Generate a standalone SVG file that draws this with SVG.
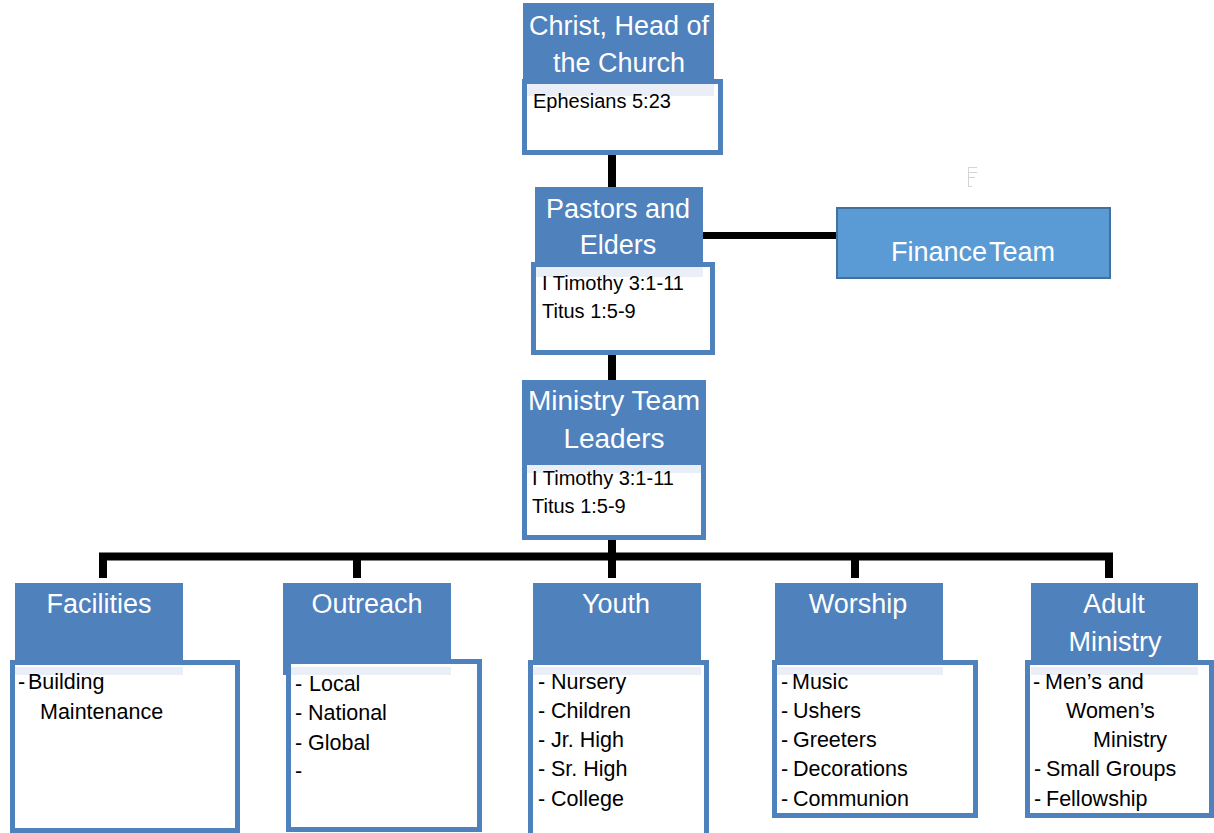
<svg xmlns="http://www.w3.org/2000/svg" width="1214" height="833" viewBox="0 0 1214 833">
<style>
.hd{fill:#4f81bd}
.bx{fill:#ffffff;stroke:#4f81bd;stroke-width:5}
.st{fill:#e9eef7}
.ht{font-family:"Liberation Sans",Arial,sans-serif;font-size:27px;fill:#ffffff;text-anchor:middle}
.bt{font-family:"Liberation Sans",Arial,sans-serif;font-size:21.5px;fill:#000000}
.rt{font-family:"Liberation Sans",Arial,sans-serif;font-size:20px;fill:#000000}
.cn{fill:none;stroke:#000000;stroke-width:8;stroke-linejoin:miter}
</style>
<rect width="1214" height="833" fill="#ffffff"/>
<g id="connectors">
<path class="cn" d="M612 155 V187"/>
<path class="cn" d="M612 355 V380"/>
<path class="cn" d="M703 235.5 H837" style="stroke-width:7px"/>
<path class="cn" d="M612 540 V557"/>
<path class="cn" d="M103 578 V556.5 H1109 V578"/>
<path class="cn" d="M357 556 V578"/>
<path class="cn" d="M612 556 V578"/>
<path class="cn" d="M855 556 V578"/>
</g>
<g id="christ">
<rect class="hd" x="523" y="3" width="191" height="80"/>
<rect class="bx" x="524.5" y="81.5" width="196" height="71"/>
<rect class="st" x="527" y="84" width="187" height="12"/>
<text class="ht" x="619" y="35">Christ, Head of</text>
<text class="ht" x="619" y="72">the Church</text>
<text class="rt" x="533" y="108">Ephesians 5:23</text>
</g>
<g id="pastors">
<rect class="hd" x="535" y="187" width="168" height="78"/>
<rect class="bx" x="533.5" y="264.5" width="179" height="88"/>
<rect class="st" x="536" y="267" width="167" height="10"/>
<text class="ht" x="618" y="218">Pastors and</text>
<text class="ht" x="618" y="254">Elders</text>
<text class="rt" x="542" y="290">I Timothy 3:1-11</text>
<text class="rt" x="542" y="318">Titus 1:5-9</text>
</g>
<g id="finance">
<rect x="837" y="208" width="273" height="70" fill="#5b9bd5" stroke="#41719c" stroke-width="2"/>
<text class="ht" x="973" y="261" style="font-size:27px;word-spacing:-5px">Finance Team</text>
</g>
<g id="artifact" stroke="#d4d4d4" stroke-width="1" fill="none">
<path d="M968.5 167 V187 M968.5 167.5 H977 M968.5 172.5 H977 M968.5 177.5 H975 M968.5 186.5 H972"/>
</g>
<g id="ministry">
<rect class="hd" x="522" y="380" width="184" height="83"/>
<rect class="bx" x="524.5" y="462.5" width="179" height="75"/>
<rect class="st" x="527" y="465" width="174" height="8"/>
<text class="ht" x="614" y="410" style="font-size:28px">Ministry Team</text>
<text class="ht" x="614" y="448" style="font-size:28px">Leaders</text>
<text class="rt" x="532" y="485">I Timothy 3:1-11</text>
<text class="rt" x="532" y="513">Titus 1:5-9</text>
</g>
<g id="facilities">
<rect class="hd" x="15" y="583" width="168" height="80"/>
<rect class="bx" x="12.5" y="662.5" width="225" height="168"/>
<rect class="st" x="15" y="667" width="168" height="8"/>
<text class="ht" x="99" y="613">Facilities</text>
<text class="bt" x="18" y="689">-</text>
<text class="bt" x="28" y="689">Building</text>
<text class="bt" x="40" y="719">Maintenance</text>
</g>
<g id="outreach">
<rect class="hd" x="283" y="583" width="168" height="92"/>
<rect class="bx" x="288.5" y="661.5" width="191" height="168"/>
<rect class="st" x="291" y="667" width="160" height="8"/>
<text class="ht" x="367" y="613">Outreach</text>
<text class="bt" x="295" y="691">-</text><text class="bt" x="309" y="691">Local</text>
<text class="bt" x="295" y="720">-</text><text class="bt" x="308" y="720">National</text>
<text class="bt" x="295" y="750">-</text><text class="bt" x="308" y="750">Global</text>
<text class="bt" x="295" y="778">-</text>
</g>
<g id="youth">
<rect class="hd" x="533" y="583" width="168" height="80"/>
<rect class="bx" x="530.5" y="662.5" width="176" height="178"/>
<rect class="st" x="533" y="667" width="168" height="8"/>
<text class="ht" x="616" y="613">Youth</text>
<text class="bt" x="538" y="689">-</text><text class="bt" x="551" y="689">Nursery</text>
<text class="bt" x="538" y="718">-</text><text class="bt" x="551" y="718">Children</text>
<text class="bt" x="538" y="747">-</text><text class="bt" x="551" y="747">Jr. High</text>
<text class="bt" x="538" y="776">-</text><text class="bt" x="551" y="776">Sr. High</text>
<text class="bt" x="538" y="806">-</text><text class="bt" x="551" y="806">College</text>
</g>
<g id="worship">
<rect class="hd" x="775" y="583" width="168" height="80"/>
<rect class="bx" x="774.5" y="662.5" width="201" height="153"/>
<rect class="st" x="777" y="667" width="166" height="8"/>
<text class="ht" x="858" y="613">Worship</text>
<text class="bt" x="781" y="689">-</text><text class="bt" x="792" y="689">Music</text>
<text class="bt" x="781" y="718">-</text><text class="bt" x="793" y="718">Ushers</text>
<text class="bt" x="781" y="747">-</text><text class="bt" x="793" y="747">Greeters</text>
<text class="bt" x="781" y="776">-</text><text class="bt" x="793" y="776">Decorations</text>
<text class="bt" x="781" y="806">-</text><text class="bt" x="793" y="806">Communion</text>
</g>
<g id="adult">
<rect class="hd" x="1031" y="583" width="167" height="80"/>
<rect class="bx" x="1027.5" y="662.5" width="184" height="153"/>
<rect class="st" x="1031" y="667" width="167" height="8"/>
<text class="ht" x="1114" y="613">Adult</text>
<text class="ht" x="1115" y="651">Ministry</text>
<text class="bt" x="1033" y="689">-</text><text class="bt" x="1045" y="689">Men’s and</text>
<text class="bt" x="1066" y="718">Women’s</text>
<text class="bt" x="1093" y="747">Ministry</text>
<text class="bt" x="1034" y="776">-</text><text class="bt" x="1046" y="776">Small Groups</text>
<text class="bt" x="1034" y="806">-</text><text class="bt" x="1046" y="806">Fellowship</text>
</g>
</svg>
